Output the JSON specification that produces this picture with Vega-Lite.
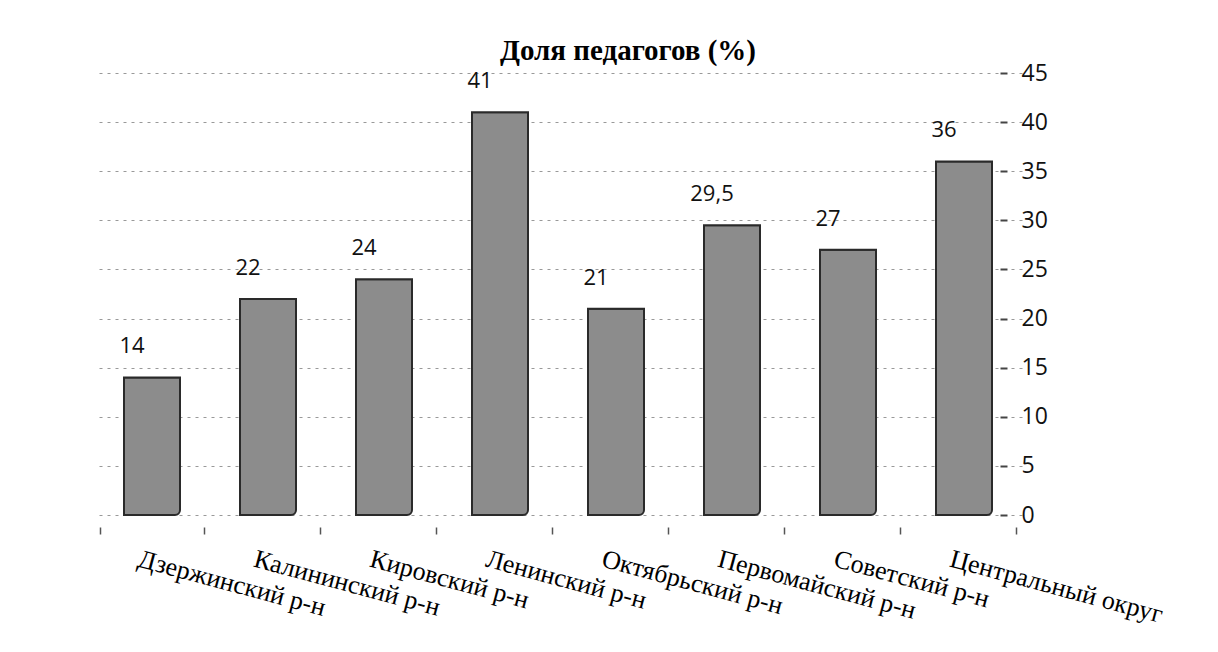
{
  "$schema": "https://vega.github.io/schema/vega-lite/v6.json",
  "width": 928,
  "height": 442,
  "autosize": {"type": "none"},
  "padding": {"left": 94, "top": 73, "right": 196, "bottom": 137},
  "background": "white",
  "title": {
    "text": "Доля педагогов (%)",
    "font": "Liberation Serif",
    "fontSize": 29,
    "fontWeight": "bold",
    "color": "#000000",
    "anchor": "middle",
    "dx": 70,
    "dy": 7,
    "offset": 3
  },
  "data": {
    "values": [
      {"district": "Дзержинский р-н", "value": 14, "label": "14"},
      {"district": "Калининский р-н", "value": 22, "label": "22"},
      {"district": "Кировский р-н", "value": 24, "label": "24"},
      {"district": "Ленинский р-н", "value": 41, "label": "41"},
      {"district": "Октябрьский р-н", "value": 21, "label": "21"},
      {"district": "Первомайский р-н", "value": 29.5, "label": "29,5"},
      {"district": "Советский р-н", "value": 27, "label": "27"},
      {"district": "Центральный округ", "value": 36, "label": "36"}
    ]
  },
  "config": {
    "view": {"stroke": null}
  },
  "encoding": {
    "x": {
      "field": "district",
      "type": "nominal",
      "sort": null,
      "title": null,
      "axis": {
        "labelAngle": 15,
        "labelAlign": "left",
        "labelBaseline": "middle",
        "labelFont": "Liberation Serif",
        "labelFontSize": 26,
        "labelColor": "#000000",
        "labelPadding": 24,
        "labelOffset": -14,
        "labelLimit": 400,
        "labelOverlap": false,
        "domain": false,
        "ticks": true,
        "tickBand": "extent",
        "tickSize": 7,
        "tickColor": "#555555",
        "tickWidth": 1.5,
        "offset": 12,
        "grid": false
      }
    },
    "y": {
      "field": "value",
      "type": "quantitative",
      "scale": {"domain": [0, 45], "nice": false},
      "title": null,
      "axis": {
        "orient": "right",
        "values": [0, 5, 10, 15, 20, 25, 30, 35, 40, 45],
        "offset": -22,
        "domain": false,
        "tickSize": 7,
        "tickColor": "#444444",
        "tickWidth": 2,
        "labelPadding": 14,
        "labelFont": "Open Sans",
        "labelFontSize": 23,
        "labelColor": "#111111",
        "grid": true,
        "gridColor": "#999999",
        "gridDash": [3, 5],
        "gridWidth": 1.2
      }
    }
  },
  "layer": [
    {
      "mark": {"type": "bar", "size": 56, "fill": "#8c8c8c", "stroke": "#2a2a2a", "strokeWidth": 2, "cornerRadiusBottomRight": 5}
    },
    {
      "mark": {"type": "text", "baseline": "bottom", "dy": -19, "dx": -20, "font": "Open Sans", "fontSize": 22, "color": "#111111"},
      "encoding": {"text": {"field": "label"}}
    }
  ]
}
